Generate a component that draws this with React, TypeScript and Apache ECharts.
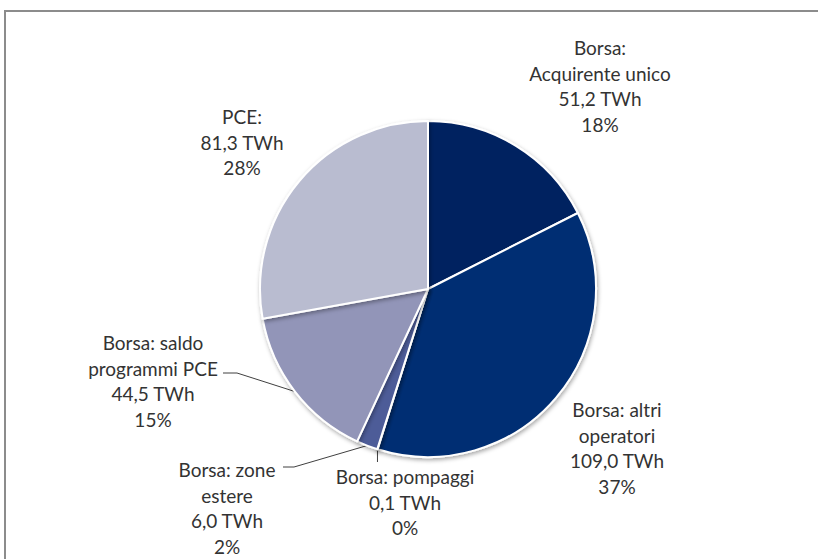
import React, { useEffect, useRef } from "react";
import * as echarts from "echarts";

const categories = [
  "Borsa:\nAcquirente unico",
  "Borsa: altri\noperatori",
  "Borsa: pompaggi",
  "Borsa: zone\nestere",
  "Borsa: saldo\nprogrammi PCE",
  "PCE:",
];
const valuesTWh = [51.2, 109.0, 0.1, 6.0, 44.5, 81.3];
const percentLabels = ["18%", "37%", "0%", "2%", "15%", "28%"];
const colors = ["#002060", "#022f73", "#1f3b82", "#4d5c98", "#9295b8", "#b9bcd0"];

// label layout: [centerX, topY]
const labelPos: [number, number][] = [
  [600, 35],
  [617, 397],
  [405, 464],
  [227, 457],
  [153, 330],
  [242, 104],
];

export default function App() {
  const ref = useRef<HTMLDivElement>(null);
  useEffect(() => {
    if (!ref.current) return;
    const chart = echarts.init(ref.current, null, { renderer: "svg" });
    const fmt = (v: number) => v.toFixed(1).replace(".", ",");
    const data = categories.map((c, i) => ({
      name: c,
      value: valuesTWh[i],
      itemStyle: { color: colors[i] },
      label: {
        formatter: `${c}\n${fmt(valuesTWh[i])} TWh\n${percentLabels[i]}`,
      },
      labelLine: { show: i >= 2 && i <= 4 },
    }));
    chart.setOption({
      animation: false,
      backgroundColor: "#ffffff",
      graphic: [
        {
          type: "rect",
          shape: { x: 5, y: 11, width: 900, height: 700 },
          style: { fill: "none", stroke: "#8c8c8c", lineWidth: 2 },
          silent: true,
        },
      ],
      series: [
        {
          type: "pie",
          center: [428, 289],
          radius: [0, 168],
          startAngle: 90,
          clockwise: true,
          data,
          itemStyle: {
            borderColor: "#ffffff",
            borderWidth: 2,
            shadowBlur: 4,
            shadowColor: "rgba(0,0,0,0.35)",
            shadowOffsetX: 1,
            shadowOffsetY: 2,
          },
          label: {
            show: true,
            position: "outside",
            fontFamily: "Lato",
            fontSize: 19,
            lineHeight: 25.5,
            color: "#333333",
            align: "center",
          },
          labelLine: {
            lineStyle: { color: "#404040", width: 1 },
          },
          labelLayout: (params: any) => {
            const i = params.dataIndex;
            const [cx, top] = labelPos[i];
            const res: any = { x: cx, y: top, align: "center", verticalAlign: "top" };
            const p0 =
              params.labelLinePoints && params.labelLinePoints[0]
                ? params.labelLinePoints[0]
                : [0, 0];
            if (i === 4) {
              res.labelLinePoints = [p0, [237, 373], [223, 373]];
            } else if (i === 3) {
              res.labelLinePoints = [p0, [294, 467], [283, 467]];
            } else if (i === 2) {
              res.labelLinePoints = [p0, [p0[0], 462], [p0[0], 462]];
            }
            return res;
          },
        },
      ],
    });
    return () => chart.dispose();
  }, []);
  return (
    <div
      ref={ref}
      style={{ position: "fixed", left: 0, top: 0, width: 818, height: 559 }}
    />
  );
}
